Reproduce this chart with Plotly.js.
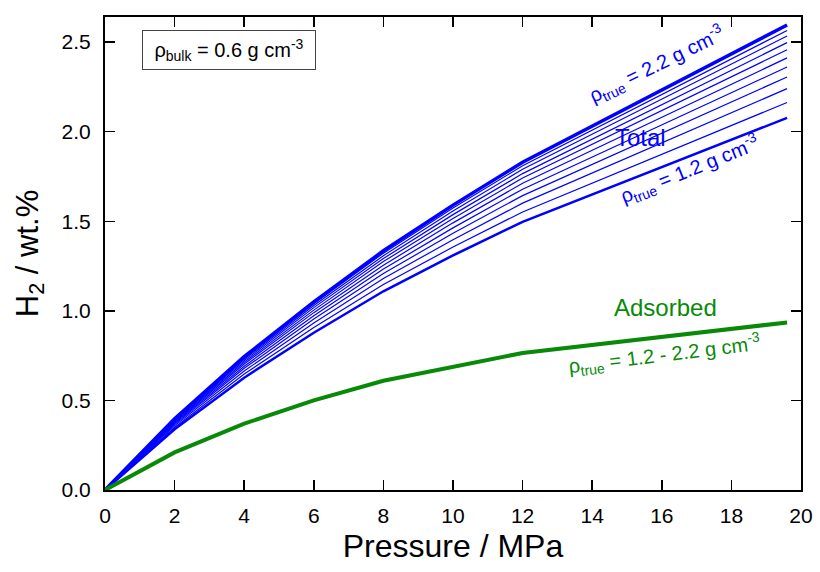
<!DOCTYPE html>
<html>
<head>
<meta charset="utf-8">
<script src="https://cdn.plot.ly/plotly-3.0.1.min.js"></script>
<style>html,body{margin:0;padding:0;background:#fff;}#chart{width:820px;height:572px;}</style>
</head>
<body>
<div id="chart"></div>
<script>
// Pressure (MPa)
const pressure = [0, 2, 4, 6, 8, 10, 12, 19.6];
// Adsorbed H2 (wt.%), same for all true densities
const adsorbed = [0, 0.21, 0.37, 0.50, 0.61, 0.69, 0.765, 0.935];
// Total H2 (wt.%) for true densities 1.2 ... 2.2 g/cm3
const rhoTrue = [1.2, 1.3, 1.4, 1.5, 1.6, 1.7, 1.8, 1.9, 2.0, 2.1, 2.2];
const total_1_2 = [0, 0.339, 0.627, 0.878, 1.109, 1.309, 1.497, 2.077];
const total_1_3 = [0, 0.349, 0.647, 0.907, 1.147, 1.356, 1.552, 2.163];
const total_1_4 = [0, 0.358, 0.664, 0.932, 1.180, 1.397, 1.601, 2.240];
const total_1_5 = [0, 0.365, 0.679, 0.954, 1.208, 1.433, 1.643, 2.305];
const total_1_6 = [0, 0.371, 0.691, 0.972, 1.233, 1.463, 1.679, 2.361];
const total_1_7 = [0, 0.377, 0.703, 0.990, 1.255, 1.491, 1.712, 2.412];
const total_1_8 = [0, 0.382, 0.713, 1.004, 1.275, 1.515, 1.741, 2.457];
const total_1_9 = [0, 0.387, 0.722, 1.018, 1.292, 1.537, 1.766, 2.497];
const total_2_0 = [0, 0.391, 0.730, 1.030, 1.308, 1.557, 1.790, 2.534];
const total_2_1 = [0, 0.395, 0.737, 1.040, 1.322, 1.574, 1.810, 2.565];
const total_2_2 = [0, 0.398, 0.744, 1.050, 1.335, 1.590, 1.829, 2.595];
const totals = [total_1_2, total_1_3, total_1_4, total_1_5, total_1_6, total_1_7,
                total_1_8, total_1_9, total_2_0, total_2_1, total_2_2];

const BLUE = '#0000ff', GREEN = '#088a08';
const FONT = 'Liberation Sans, Arial, Helvetica, sans-serif';

const traces = [];
totals.forEach((ys, i) => {
  let w = 1.2;
  if (i === 0) w = 2.5;
  if (i === totals.length - 1) w = 3.5;
  traces.push({x: pressure, y: ys, type: 'scatter', mode: 'lines',
    line: {color: BLUE, width: w}, name: 'ρ ' + rhoTrue[i], hoverinfo: 'skip'});
});
traces.push({x: pressure, y: adsorbed, type: 'scatter', mode: 'lines',
  line: {color: GREEN, width: 4}, name: 'Adsorbed'});

const layout = {
  width: 820, height: 572,
  margin: {l: 105, r: 19, t: 17, b: 82},
  paper_bgcolor: '#fff', plot_bgcolor: '#fff',
  showlegend: false,
  font: {family: FONT, color: '#000', size: 20},
  xaxis: {
    range: [0, 20], dtick: 2, tick0: 0,
    ticks: 'inside', ticklen: 10, tickwidth: 1.5, tickcolor: '#000',
    showline: true, linewidth: 2, linecolor: '#000', mirror: 'ticks',
    showgrid: false, zeroline: false,
    tickfont: {size: 21, family: FONT},
    ticklabelstandoff: 6,
    title: {text: 'Pressure / MPa', font: {size: 32, family: FONT}, standoff: 8}
  },
  yaxis: {
    range: [0, 2.64], dtick: 0.5, tick0: 0, tickformat: '.1f',
    ticks: 'inside', ticklen: 10, tickwidth: 1.5, tickcolor: '#000',
    showline: true, linewidth: 2, linecolor: '#000', mirror: 'ticks',
    showgrid: false, zeroline: false,
    tickfont: {size: 21, family: FONT},
    ticklabelstandoff: 8,
    title: {text: 'H<sub>2</sub> / wt.%', font: {size: 31, family: FONT}, standoff: 14}
  },
  annotations: [
    {x: 3.56, y: 2.458, xref: 'x', yref: 'y', showarrow: false,
     text: 'ρ<sub>bulk</sub> = 0.6 g cm<sup>-3</sup>', font: {size: 20, color: '#000', family: FONT},
     bordercolor: '#444', borderwidth: 1, borderpad: 0, width: 172, height: 38, bgcolor: '#fff'},
    {x: 15.86, y: 2.374, xref: 'x', yref: 'y', showarrow: false, textangle: -26,
     text: 'ρ<sub>true</sub> = 2.2 g cm<sup>-3</sup>', font: {size: 20, color: BLUE, family: FONT}},
    {x: 15.40, y: 1.966, xref: 'x', yref: 'y', showarrow: false,
     text: 'Total', font: {size: 24, color: BLUE, family: FONT}},
    {x: 16.81, y: 1.788, xref: 'x', yref: 'y', showarrow: false, textangle: -22,
     text: 'ρ<sub>true</sub> = 1.2 g cm<sup>-3</sup>', font: {size: 20, color: BLUE, family: FONT}},
    {x: 16.12, y: 1.017, xref: 'x', yref: 'y', showarrow: false,
     text: 'Adsorbed', font: {size: 24, color: GREEN, family: FONT}},
    {x: 16.09, y: 0.754, xref: 'x', yref: 'y', showarrow: false, textangle: -7,
     text: 'ρ<sub>true</sub> = 1.2 - 2.2 g cm<sup>-3</sup>', font: {size: 20, color: GREEN, family: FONT}}
  ]
};

Plotly.newPlot('chart', traces, layout, {displayModeBar: false, staticPlot: true});
</script>
</body>
</html>
